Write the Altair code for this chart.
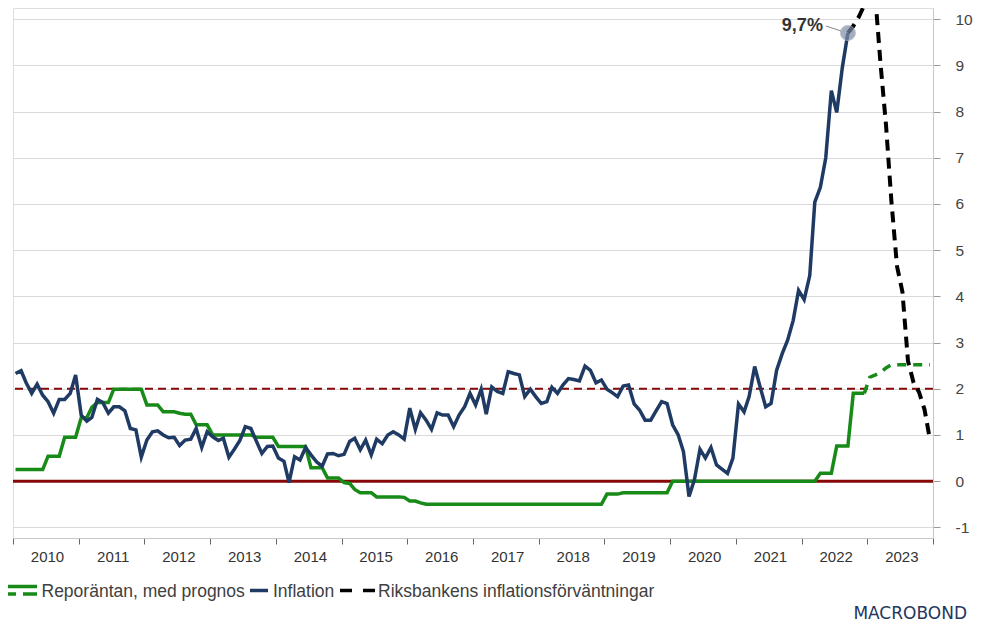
import altair as alt
import pandas as pd

# ---------------- data ----------------
series_names = ["Reporäntan, med prognos", "Inflation", "Riksbankens inflationsförväntningar"]
year_ticks = list(range(2010, 2025))
y_ticks = list(range(-1, 11))
target_level = 2.0
zero_level = 0.0
peak_label = "9,7%"
brand = "MACROBOND"

# monthly inflation, Jan 2010 - Sep 2022
inflation = [
    2.33, 2.39, 2.13, 1.90, 2.10, 1.86, 1.72, 1.47, 1.77, 1.77, 1.90, 2.30,
    1.43, 1.30, 1.38, 1.77, 1.70, 1.47, 1.61, 1.61, 1.52, 1.14, 1.11, 0.52,
    0.89, 1.07, 1.09, 1.00, 0.94, 0.95, 0.77, 0.89, 0.91, 1.14, 0.73, 1.07,
    0.96, 0.88, 0.93, 0.52, 0.69, 0.88, 1.18, 1.14, 0.86, 0.60, 0.75, 0.76,
    0.50, 0.43, -0.03, 0.53, 0.46, 0.73, 0.57, 0.42, 0.32, 0.59, 0.60, 0.55,
    0.58, 0.86, 0.93, 0.68, 0.89, 0.57, 0.91, 0.81, 1.00, 1.07, 1.00, 0.91,
    1.58, 1.12, 1.48, 1.32, 1.12, 1.48, 1.43, 1.43, 1.18, 1.43, 1.61, 1.90,
    1.65, 1.99, 1.45, 2.04, 1.94, 1.90, 2.37, 2.33, 2.30, 1.83, 1.99, 1.83,
    1.68, 1.72, 2.03, 1.90, 2.08, 2.22, 2.20, 2.17, 2.49, 2.40, 2.13, 2.19,
    1.99, 1.91, 1.83, 2.06, 2.08, 1.67, 1.54, 1.32, 1.32, 1.52, 1.72, 1.68,
    1.22, 1.00, 0.64, -0.33, 0.03, 0.69, 0.50, 0.73, 0.35, 0.26, 0.17, 0.50,
    1.67, 1.50, 1.83, 2.48, 2.04, 1.61, 1.68, 2.40, 2.76, 3.05, 3.48, 4.13,
    3.93, 4.45, 6.04, 6.36, 7.00, 8.45, 7.98, 8.95, 9.70,
]

# monthly repo rate (outcome), Jan 2010 - Dec 2022
repo_history = [
    0.25, 0.25, 0.25, 0.25, 0.25, 0.25, 0.54, 0.54, 0.54, 0.95, 0.95, 0.95,
    1.37, 1.37, 1.60, 1.70, 1.70, 1.70, 1.99, 1.99, 1.99, 1.99, 1.99, 1.99,
    1.65, 1.65, 1.65, 1.50, 1.50, 1.50, 1.47, 1.45, 1.45, 1.22, 1.22, 1.22,
    1.00, 1.00, 1.00, 1.00, 1.00, 1.00, 1.00, 1.00, 0.95, 0.95, 0.95, 0.95,
    0.75, 0.75, 0.75, 0.75, 0.75, 0.75, 0.29, 0.29, 0.29, 0.07, 0.07, 0.07,
    -0.03, -0.05, -0.18, -0.25, -0.25, -0.25, -0.34, -0.34, -0.34, -0.34, -0.34, -0.35,
    -0.43, -0.43, -0.47, -0.50, -0.50, -0.50, -0.50, -0.50, -0.50, -0.50, -0.50, -0.50,
    -0.50, -0.50, -0.50, -0.50, -0.50, -0.50, -0.50, -0.50, -0.50, -0.50, -0.50, -0.50,
    -0.50, -0.50, -0.50, -0.50, -0.50, -0.50, -0.50, -0.50, -0.50, -0.50, -0.50, -0.50,
    -0.28, -0.28, -0.28, -0.25, -0.25, -0.25, -0.25, -0.25, -0.25, -0.25, -0.25, -0.25,
    0.0, 0.0, 0.0, 0.0, 0.0, 0.0, 0.0, 0.0, 0.0, 0.0, 0.0, 0.0,
    0.0, 0.0, 0.0, 0.0, 0.0, 0.0, 0.0, 0.0, 0.0, 0.0, 0.0, 0.0,
    0.0, 0.0, 0.0, 0.17, 0.17, 0.17, 0.76, 0.76, 0.76, 1.90, 1.90, 1.90,
]

# repo rate forecast, Dec 2022 - Dec 2023
repo_forecast = [1.90, 2.25, 2.30, 2.35, 2.45, 2.52, 2.52, 2.52, 2.52, 2.52, 2.52, 2.52, 2.52]

# Riksbank inflation path, Sep 2022 - Dec 2023
expectations = [9.70, 9.85, 10.05, 10.30, 10.60, 10.45, 9.05, 7.70, 6.05, 4.65, 4.10, 2.60, 2.13, 1.93, 1.55, 0.90]


def month_dates(start_year, start_month, n):
    out = []
    y, m = start_year, start_month
    for _ in range(n):
        out.append(f"{y:04d}-{m:02d}-15T00:00:00")
        m += 1
        if m > 12:
            m = 1
            y += 1
    return out


df_infl = pd.DataFrame({"date": month_dates(2010, 1, len(inflation)), "value": inflation})
df_repo = pd.DataFrame({"date": month_dates(2010, 1, len(repo_history)), "value": repo_history})
df_fc = pd.DataFrame({"date": month_dates(2022, 12, len(repo_forecast)), "value": repo_forecast})
df_exp = pd.DataFrame({"date": month_dates(2022, 9, len(expectations)), "value": expectations})
df_peak = df_infl.tail(1).assign(label=peak_label)
df_levels = pd.DataFrame({"value": [zero_level, target_level]})

# ---------------- styling ----------------
GREEN = "#178a17"
NAVY = "#1f3a63"
RED = "#860808"
FONT = "Liberation Sans"
TEXT = "#404040"

x_scale = alt.Scale(domain=[alt.DateTime(year=2010, month=1, date=1),
                            alt.DateTime(year=2024, month=1, date=1)])
y_scale = alt.Scale(domain=[-1.23, 10.24], nice=False, zero=False)

x_axis = alt.Axis(
    values=[alt.DateTime(year=y, month=1, date=1) for y in year_ticks],
    labelExpr="year(datum.value) < 2024 ? timeFormat(datum.value, '%Y') : ''",
    labelOffset=34, labelFlush=False, labelOverlap=False,
    tickSize=6, tickColor="#666", domainColor="#c8c8c8", grid=False,
    labelFontSize=15, labelColor="#333", labelPadding=5, labelFont=FONT, title=None,
)
y_axis = alt.Axis(
    orient="right", values=y_ticks, tickSize=7, tickColor="#999",
    labelExpr="replace(datum.label, '\u2212', '-')",
    labelPadding=15, labelFontSize=15.5, labelColor="#444", labelFont=FONT,
    domainColor="#c8c8c8", gridColor="#dadada", gridWidth=1, title=None,
)

X = alt.X("date:T", scale=x_scale, axis=x_axis)
Y = alt.Y("value:Q", scale=y_scale, axis=y_axis)

base_axes = alt.Chart(df_infl).mark_line(opacity=0).encode(x=X, y=Y)

zero_rule = alt.Chart(df_levels.iloc[[0]]).mark_rule(color=RED, strokeWidth=3).encode(y="value:Q")
target_rule = alt.Chart(df_levels.iloc[[1]]).mark_rule(
    color=RED, strokeWidth=2, strokeDash=[8, 5]).encode(y="value:Q")

repo_line = alt.Chart(df_repo).mark_line(color=GREEN, strokeWidth=3.5).encode(x="date:T", y="value:Q")
fc_line = alt.Chart(df_fc).mark_line(color=GREEN, strokeWidth=3.5, strokeDash=[9, 7]).encode(
    x="date:T", y="value:Q")
exp_line = alt.Chart(df_exp).mark_line(color="black", strokeWidth=4, strokeDash=[11, 7], clip=True).encode(
    x="date:T", y="value:Q")
infl_line = alt.Chart(df_infl).mark_line(color=NAVY, strokeWidth=3.5).encode(x="date:T", y="value:Q")

peak_dot = alt.Chart(df_peak).mark_circle(size=230, color="#7d8ca6", opacity=0.7, stroke="#aab3c4",
                                          strokeWidth=1).encode(x="date:T", y="value:Q")
peak_text = alt.Chart(df_peak).mark_text(
    align="right", baseline="middle", dx=-25, dy=-7, fontSize=18, fontWeight="bold",
    color="#333", font=FONT).encode(x="date:T", y="value:Q", text="label:N")
leader = alt.Chart(df_peak).mark_rule(color="#888", strokeWidth=1).encode(
    x=alt.value(813), x2=alt.value(828), y=alt.value(18), y2=alt.value(23))

# ---------------- legend ----------------
one = pd.DataFrame({"k": [0]})
LEG_Y = 582.5


def seg(x1, x2, y, color, dash=None):
    kw = {"color": color, "strokeWidth": 3.5}
    if dash:
        kw["strokeDash"] = dash
    return alt.Chart(one).mark_rule(**kw).encode(x=alt.value(x1), x2=alt.value(x2), y=alt.value(y))


leg_items = [
    seg(-5, 24, LEG_Y - 4, GREEN),
    seg(-5, 3, LEG_Y + 3.5, GREEN),
    seg(10, 24, LEG_Y + 3.5, GREEN),
    seg(237, 255, LEG_Y, NAVY),
    seg(327, 339, LEG_Y, "black"),
    seg(350, 362, LEG_Y, "black"),
]
leg_x = [28.5, 260, 365]
for name, lx in zip(series_names, leg_x):
    leg_items.append(
        alt.Chart(pd.DataFrame({"label": [name]})).mark_text(
            align="left", baseline="alphabetic", fontSize=17.5, color=TEXT, font=FONT).encode(
            x=alt.value(lx), y=alt.value(LEG_Y + 6.5), text="label:N"))

logo = alt.Chart(pd.DataFrame({"label": [brand]})).mark_text(
    align="right", baseline="alphabetic", fontSize=17, color="#24365c", font="DejaVu Sans").encode(
    x=alt.value(954), y=alt.value(611), text="label:N")

chart = alt.layer(
    base_axes, zero_rule, target_rule, repo_line, fc_line, exp_line, infl_line,
    peak_dot, leader, peak_text, *leg_items, logo,
).properties(
    width=920, height=530,
    autosize=alt.AutoSizeParams(type="none"),
    padding={"left": 5, "top": 0, "right": 41, "bottom": 87},
).configure_view(strokeWidth=0).configure(background="white")

chart.save("out.html", embed_options={"renderer": "svg", "actions": False})
